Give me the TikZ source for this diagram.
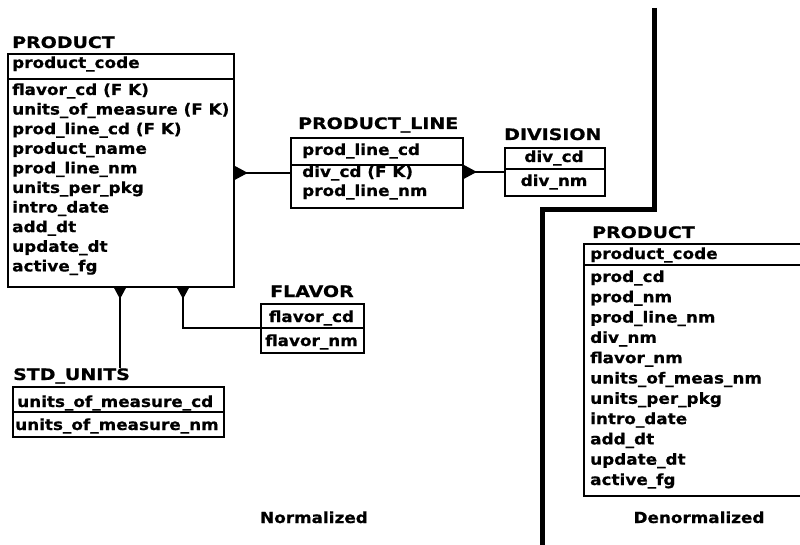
\documentclass[tikz,border=0pt]{standalone}
\usepackage{fontspec}
\newfontfamily\erfont{DejaVu Sans}[FakeStretch=1.1,FakeBold=0.6]
\newfontfamily\ttfont{DejaVu Sans}[FakeStretch=1.2,FakeBold=0.6]
\newcommand\rowfnt{\erfont\bfseries\fontsize{15.3}{17}\selectfont}
\newcommand\ttlfnt{\ttfont\bfseries\fontsize{15.8}{17}\selectfont}
\begin{document}
\begin{tikzpicture}[x=1pt,y=-1pt,
  tbl/.style={draw, line width=1.8pt, inner sep=0pt, anchor=north west},
  rowtxt/.style={anchor=base west, inner sep=0pt, font=\rowfnt},
  ctxt/.style={anchor=base, inner sep=0pt, font=\rowfnt},
  ttl/.style={anchor=base west, inner sep=0pt, font=\ttlfnt},
  divline/.style={line width=1.5pt},
  conn/.style={line width=2pt},
  wall/.style={line width=5pt},
  crow/.style={fill=black}]
\useasboundingbox (0,0) rectangle (800,545);
\clip (0,0) rectangle (800,545);

% ---- Normalized PRODUCT
\node[ttl] (t1) at (12,48) {PRODUCT};
\node[tbl, minimum width=226pt, minimum height=233pt] (prod) at (7,53) {};
\draw[divline] (prod.west |- 0,79) -- (prod.east |- 0,79);
\node[rowtxt] at (12,68) {product\_code};
\foreach \t [count=\i from 0] in {flavor\_cd (F K),units\_of\_measure (F K),prod\_line\_cd (F K),product\_name,prod\_line\_nm,units\_per\_pkg,intro\_date,add\_dt,update\_dt,active\_fg}
  \node[rowtxt] at (12,95+19.6*\i) {\t};

% ---- PRODUCT_LINE
\node[ttl] (t2) at (298,129) {PRODUCT\_LINE};
\node[tbl, minimum width=172pt, minimum height=70pt] (pline) at (290,137) {};
\draw[divline] (pline.west |- 0,165) -- (pline.east |- 0,165);
\node[rowtxt] at (302,155) {prod\_line\_cd};
\node[rowtxt] at (302,177) {div\_cd (F K)};
\node[rowtxt] at (302,196) {prod\_line\_nm};

% ---- DIVISION
\node[ttl] (t3) at (504,140) {DIVISION};
\node[tbl, minimum width=100pt, minimum height=48pt] (div) at (504,147) {};
\draw[divline] (div.west |- 0,169) -- (div.east |- 0,169);
\node[ctxt] at (554,162) {div\_cd};
\node[ctxt] at (554,186) {div\_nm};

% ---- FLAVOR
\node[ttl] (t4) at (270,297) {FLAVOR};
\node[tbl, minimum width=103pt, minimum height=49pt] (flav) at (260,303) {};
\draw[divline] (flav.west |- 0,328) -- (flav.east |- 0,328);
\node[ctxt] at (311.5,322) {flavor\_cd};
\node[ctxt] at (311.5,346) {flavor\_nm};

% ---- STD_UNITS
\node[ttl] (t5) at (13,380) {STD\_UNITS};
\node[tbl, minimum width=211pt, minimum height=50pt] (std) at (12,386) {};
\draw[divline] (std.west |- 0,412) -- (std.east |- 0,412);
\node[rowtxt] at (17,407) {units\_of\_measure\_cd};
\node[rowtxt] at (15,430) {units\_of\_measure\_nm};

% ---- connectors
\draw[conn] (prod.east |- pline.west) -- (pline.west);
\fill[crow] (prod.east |- pline.west) ++(0,-7) -- ++(13,7) -- ++(-13,7) -- cycle;
\draw[conn] (pline.east |- div.west) -- (div.west);
\fill[crow] (pline.east |- div.west) ++(0,-7) -- ++(13,7) -- ++(-13,7) -- cycle;
\coordinate (c1) at (120,286);
\draw[conn] (c1) -- (c1 |- t5.north);
\fill[crow] (c1) ++(-7,0) -- ++(7,13) -- ++(7,-13) -- cycle;
\coordinate (c2) at (183,286);
\coordinate (c3) at (183,328);
\draw[conn] (c2) -- (c3) -- (flav.west |- c3);
\fill[crow] (c2) ++(-7,0) -- ++(7,13) -- ++(7,-13) -- cycle;

% ---- separating wall
\coordinate (w1) at (654,8);
\coordinate (w2) at (654,210);
\coordinate (w3) at (542,210);
\coordinate (w4) at (542,550);
\draw[wall] (w1) -- (w2) -- (w3) -- (w4);

% ---- Denormalized PRODUCT
\node[ttl] (t6) at (592,238) {PRODUCT};
\node[tbl, minimum width=240pt, minimum height=252pt] (dprod) at (583,243) {};
\draw[divline] (dprod.west |- 0,265) -- (dprod.east |- 0,265);
\node[rowtxt] at (590,259) {product\_code};
\foreach \t [count=\i from 0] in {prod\_cd,prod\_nm,prod\_line\_nm,div\_nm,flavor\_nm,units\_of\_meas\_nm,units\_per\_pkg,intro\_date,add\_dt,update\_dt,active\_fg}
  \node[rowtxt] at (590,282+20.3*\i) {\t};

% ---- captions
\node[ctxt] (n1) at (314,523) {Normalized};
\node[ctxt] (n2) at (699,523) {Denormalized};
\end{tikzpicture}
\end{document}
